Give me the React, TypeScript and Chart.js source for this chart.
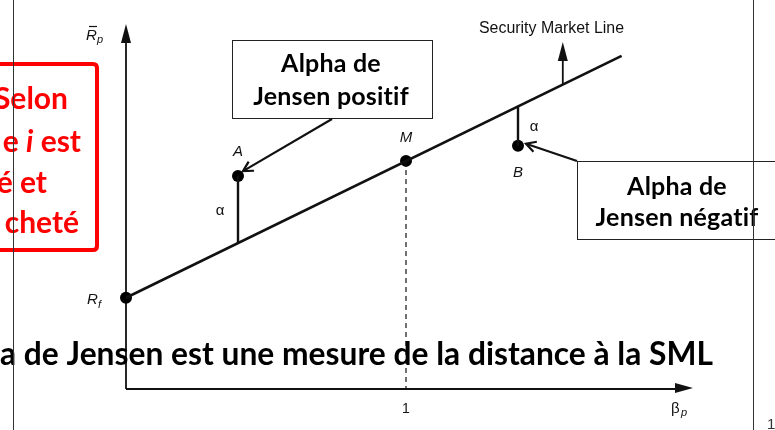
import React, { useEffect, useRef } from 'react';
import { Chart, registerables } from 'chart.js';

Chart.register(...registerables);

// ---- data (beta, expected return) ----
const pointNames = ['Rf', 'A', 'M', 'B'];
const pointBetas = [0, 0.4, 1, 1.4];
const pointReturns = [3, 7, 7.5, 8];

const smlBetas = [0, 1.77];
const smlReturns = [3, 10.95];

const alphaABetas = [0.4, 0.4];
const alphaAReturns = [7, 4.8];
const alphaBBetas = [1.4, 1.4];
const alphaBReturns = [9.3, 8];

const marketDashBetas = [1, 1];
const marketDashReturns = [7.5, 0];

// stem of the "Security Market Line" pointer arrow (from SML to arrowhead base)
const smlArrowBetas = [1.56, 1.56];
const smlArrowReturns = [10.02, 10.82];

const xTickValues = [1];
const xTickLabels = ['1'];

const X_MAX = 2.025;
const Y_MAX = 12;

const CAL = 'Lato, "Open Sans", sans-serif';
const ARIAL = '"Liberation Sans", Arial, sans-serif';

const pts = (xs: number[], ys: number[]) => xs.map((x, i) => ({ x, y: ys[i] }));

function openArrow(ctx: CanvasRenderingContext2D, x1: number, y1: number, x2: number, y2: number) {
  ctx.beginPath();
  ctx.moveTo(x1, y1);
  ctx.lineTo(x2, y2);
  ctx.stroke();
  const a = Math.atan2(y2 - y1, x2 - x1);
  const L = 11;
  ctx.beginPath();
  ctx.moveTo(x2 - L * Math.cos(a - 0.5), y2 - L * Math.sin(a - 0.5));
  ctx.lineTo(x2, y2);
  ctx.lineTo(x2 - L * Math.cos(a + 0.5), y2 - L * Math.sin(a + 0.5));
  ctx.stroke();
}

function triangle(ctx: CanvasRenderingContext2D, pts3: number[][]) {
  ctx.beginPath();
  ctx.moveTo(pts3[0][0], pts3[0][1]);
  ctx.lineTo(pts3[1][0], pts3[1][1]);
  ctx.lineTo(pts3[2][0], pts3[2][1]);
  ctx.closePath();
  ctx.fill();
}

function setSpacing(ctx: any, v: string) {
  if ('letterSpacing' in ctx) ctx.letterSpacing = v;
}

const annotPlugin = {
  id: 'annot',
  beforeDatasetsDraw(chart: any) {
    const ctx: CanvasRenderingContext2D = chart.ctx;
    const { left, right, top, bottom } = chart.chartArea;
    ctx.save();
    ctx.strokeStyle = '#111';
    ctx.fillStyle = '#111';
    ctx.lineWidth = 1.8;
    // y axis
    ctx.beginPath();
    ctx.moveTo(left, bottom);
    ctx.lineTo(left, top + 15);
    ctx.stroke();
    triangle(ctx, [[left, top], [left - 5, top + 19], [left + 5, top + 19]]);
    // x axis
    ctx.beginPath();
    ctx.moveTo(left, bottom);
    ctx.lineTo(right - 15, bottom);
    ctx.stroke();
    triangle(ctx, [[right, bottom - 1], [right - 18, bottom - 6], [right - 18, bottom + 4]]);
    ctx.restore();
  },
  afterDraw(chart: any) {
    const ctx: CanvasRenderingContext2D = chart.ctx;
    const xs = chart.scales.x;
    const ys = chart.scales.y;
    const H = chart.height;
    const px = (b: number) => xs.getPixelForValue(b);
    const py = (r: number) => ys.getPixelForValue(r);
    ctx.save();

    // SML arrow head
    const ax = px(smlArrowBetas[1]);
    const ay = py(smlArrowReturns[1]);
    ctx.fillStyle = '#111';
    triangle(ctx, [[ax, ay - 18], [ax - 5, ay + 1], [ax + 5, ay + 1]]);

    // axis labels
    ctx.fillStyle = '#111';
    ctx.textBaseline = 'alphabetic';
    // R bar p
    ctx.font = `italic 15px ${ARIAL}`;
    ctx.textAlign = 'left';
    ctx.fillText('R', 86, 40);
    ctx.font = `italic 11px ${ARIAL}`;
    ctx.fillText('p', 97, 43);
    ctx.lineWidth = 1.2;
    ctx.strokeStyle = '#111';
    ctx.beginPath();
    ctx.moveTo(89, 26.5);
    ctx.lineTo(97, 26.5);
    ctx.stroke();
    // Rf
    ctx.font = `italic 15px ${ARIAL}`;
    ctx.fillText('R', 87, 304);
    ctx.font = `italic 11px ${ARIAL}`;
    ctx.fillText('f', 98, 308);
    // beta p
    ctx.font = `15px ${ARIAL}`;
    ctx.fillText('β', 671, 413);
    ctx.font = `italic 11px ${ARIAL}`;
    ctx.fillText('p', 681, 416);
    // x ticks
    ctx.font = `14px ${ARIAL}`;
    ctx.textAlign = 'center';
    xTickValues.forEach((v, i) => ctx.fillText(xTickLabels[i], px(v), 413));

    // point labels
    ctx.font = `italic 15px ${ARIAL}`;
    const labelOffsets: Record<string, number[]> = { A: [0, -20], M: [0, -19], B: [0, 31] };
    pointNames.forEach((n, i) => {
      const off = labelOffsets[n];
      if (!off) return;
      ctx.fillText(n, px(pointBetas[i]) + off[0], py(pointReturns[i]) + off[1]);
    });
    // alphas
    ctx.font = `15px ${ARIAL}`;
    ctx.fillText('α', px(alphaABetas[0]) - 18, (py(alphaAReturns[0]) + py(alphaAReturns[1])) / 2 + 5);
    ctx.fillText('α', px(alphaBBetas[0]) + 16, (py(alphaBReturns[0]) + py(alphaBReturns[1])) / 2 + 5);

    // Security Market Line
    ctx.textAlign = 'left';
    ctx.font = `16px ${ARIAL}`;
    ctx.fillText('Security Market Line', 479, 33, 145);

    // boxes
    ctx.lineWidth = 1;
    ctx.strokeStyle = '#222';
    ctx.fillStyle = '#fff';
    ctx.fillRect(232, 40, 201, 78);
    ctx.strokeRect(232.5, 40.5, 200, 78);
    ctx.fillRect(577, 161, 210, 78);
    ctx.strokeRect(577.5, 161.5, 210, 78);

    ctx.fillStyle = '#000';
    ctx.font = `bold 25px ${CAL}`;
    ctx.textAlign = 'center';
    setSpacing(ctx, '0.2px');
    ctx.fillText('Alpha de', 331, 72, 150);
    ctx.fillText('Jensen positif', 331, 105, 158);
    ctx.fillText('Alpha de', 677, 195, 150);
    ctx.fillText('Jensen négatif', 677, 226, 167);
    setSpacing(ctx, '0px');

    // arrows from boxes
    ctx.strokeStyle = '#111';
    ctx.lineWidth = 2.2;
    const iA = pointNames.indexOf('A');
    const iB = pointNames.indexOf('B');
    openArrow(ctx, 332, 119, px(pointBetas[iA]) + 5, py(pointReturns[iA]) - 5);
    openArrow(ctx, 577, 161, px(pointBetas[iB]) + 8, py(pointReturns[iB]) - 2);

    // bottom statement
    ctx.font = `bold 32px ${CAL}`;
    ctx.textAlign = 'left';
    ctx.fillStyle = '#000';
    ctx.fillText('a de Jensen est une mesure de la distance à la SML', 0, 365, 713);

    // red box
    ctx.strokeStyle = '#ff0000';
    ctx.lineWidth = 4;
    ctx.beginPath();
    ctx.moveTo(-10, 64);
    ctx.lineTo(93, 64);
    ctx.quadraticCurveTo(97, 64, 97, 68);
    ctx.lineTo(97, 246);
    ctx.quadraticCurveTo(97, 250, 93, 250);
    ctx.lineTo(-10, 250);
    ctx.stroke();
    ctx.fillStyle = '#ff0000';
    ctx.textAlign = 'right';
    ctx.font = `bold 30px ${CAL}`;
    ctx.fillText('Selon', 68, 109);
    ctx.fillText('é et', 47, 193);
    ctx.fillText('cheté', 79, 233);
    // "e i est" with italic i
    const estW = ctx.measureText(' est').width;
    ctx.fillText(' est', 81, 152);
    ctx.font = `bold italic 30px ${CAL}`;
    const iW = ctx.measureText('i').width;
    ctx.fillText('i', 81 - estW, 152);
    ctx.font = `bold 30px ${CAL}`;
    ctx.fillText('e ', 81 - estW - iW, 152);

    // slide frame lines
    ctx.strokeStyle = '#333';
    ctx.lineWidth = 1;
    ctx.beginPath();
    ctx.moveTo(13.5, 0);
    ctx.lineTo(13.5, H);
    ctx.moveTo(753.5, 0);
    ctx.lineTo(753.5, H);
    ctx.stroke();

    // page number
    ctx.fillStyle = '#333';
    ctx.font = `15px ${ARIAL}`;
    ctx.textAlign = 'left';
    ctx.textBaseline = 'top';
    ctx.fillText('1', 767, 417);
    ctx.restore();
  },
};

export default function App() {
  const ref = useRef<HTMLCanvasElement | null>(null);
  useEffect(() => {
    if (!ref.current) return;
    const lineDs = (data: any[], extra: any = {}) => ({
      data,
      showLine: true,
      borderColor: '#111',
      borderWidth: 2.4,
      pointRadius: 0,
      fill: false,
      clip: false,
      ...extra,
    });
    const chart = new Chart(ref.current, {
      type: 'scatter',
      data: {
        datasets: [
          lineDs(pts(marketDashBetas, marketDashReturns), { borderWidth: 1.2, borderDash: [5, 4] }),
          lineDs(pts(alphaABetas, alphaAReturns)),
          lineDs(pts(alphaBBetas, alphaBReturns)),
          lineDs(pts(smlBetas, smlReturns), { borderWidth: 2.6 }),
          lineDs(pts(smlArrowBetas, smlArrowReturns), { borderWidth: 1.8 }),
          {
            data: pts(pointBetas, pointReturns),
            showLine: false,
            pointRadius: 6,
            pointBackgroundColor: '#000',
            pointBorderWidth: 0,
            backgroundColor: '#000',
            clip: false,
          },
        ],
      },
      options: {
        animation: false,
        responsive: false,
        devicePixelRatio: 1,
        layout: { padding: { left: 126, right: 82, top: 24, bottom: 41 } },
        plugins: { legend: { display: false }, tooltip: { enabled: false } },
        scales: {
          x: { type: 'linear', min: 0, max: X_MAX, display: false },
          y: { type: 'linear', min: 0, max: Y_MAX, display: false },
        },
      },
      plugins: [annotPlugin],
    } as any);
    return () => chart.destroy();
  }, []);
  return (
    <div style={{ position: 'fixed', left: 0, top: 0, width: 775, height: 430, background: '#fff' }}>
      <canvas ref={ref} width={775} height={430} style={{ width: 775, height: 430, display: 'block' }} />
    </div>
  );
}
